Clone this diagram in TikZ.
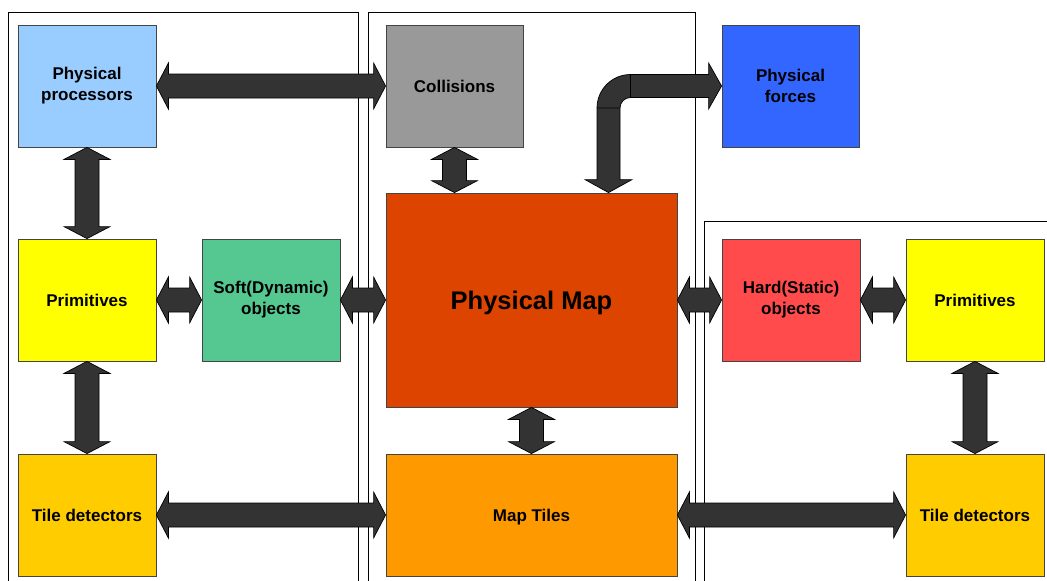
\documentclass[tikz,border=0pt]{standalone}
\usepackage{fontspec}
\setmainfont{Liberation Sans}
\usetikzlibrary{calc}
\definecolor{cproc}{HTML}{99CCFF}
\definecolor{ccoll}{HTML}{999999}
\definecolor{cforce}{HTML}{3366FF}
\definecolor{cprim}{HTML}{FFFF00}
\definecolor{csoft}{HTML}{55C891}
\definecolor{cmap}{HTML}{DD4400}
\definecolor{chard}{HTML}{FF4B4B}
\definecolor{ctile}{HTML}{FFCC00}
\definecolor{ctiles}{HTML}{FF9900}
\definecolor{carrow}{HTML}{333333}
\definecolor{cedge}{HTML}{444444}
\tikzset{
  box/.style={draw=cedge, line width=0.8pt, rectangle, inner sep=0pt, align=center,
    minimum width=138pt, minimum height=122pt,
    font=\fontsize{17}{21}\selectfont\bfseries},
  bigbox/.style={box, minimum width=291pt, text depth=0pt},
  panel/.style={draw=black, line width=0.9pt},
  arr/.style={draw=black, line width=0.7pt, fill=carrow, line join=miter}
}
\newcommand\harr[2]{\draw[arr] let \p1=(#1.east), \p2=(#2.west) in
  (\x1,\y1) -- (\x1+12pt,\y1+23pt) -- (\x1+12pt,\y1+12pt) -- (\x2-12pt,\y1+12pt)
  -- (\x2-12pt,\y1+23pt) -- (\x2,\y1) -- (\x2-12pt,\y1-23pt) -- (\x2-12pt,\y1-12pt)
  -- (\x1+12pt,\y1-12pt) -- (\x1+12pt,\y1-23pt) -- cycle;}
\newcommand\varr[2]{\draw[arr] let \p1=(#1.south), \p2=(#2.north) in
  (\x1,\y1) -- (\x1+23pt,\y1-12pt) -- (\x1+12pt,\y1-12pt) -- (\x1+12pt,\y2+12pt)
  -- (\x1+23pt,\y2+12pt) -- (\x1,\y2) -- (\x1-23pt,\y2+12pt) -- (\x1-12pt,\y2+12pt)
  -- (\x1-12pt,\y1-12pt) -- (\x1-23pt,\y1-12pt) -- cycle;}
\begin{document}
\begin{tikzpicture}[x=1pt,y=1pt]
\useasboundingbox (0,0) rectangle (1047,-581);
\fill[white] (0,0) rectangle (1047,-581);
% panels
\draw[panel] (8,-600) -- (8,-12.5) -- (358,-12.5) -- (358,-600);
\draw[panel] (368,-600) -- (368,-12.5) -- (695.5,-12.5) -- (695.5,-600);
\draw[panel] (704.5,-600) -- (704.5,-221) -- (1060,-221);
% boxes
\node[box, fill=cproc]  (proc)   at (87,-86)    {Physical\\processors};
\node[box, fill=ccoll, minimum width=137pt]  (coll)   at (454.5,-86) {Collisions};
\node[box, fill=cforce, minimum width=137pt] (forces) at (790.5,-86) {Physical\\forces};
\node[box, fill=cprim]  (primL)  at (87,-300)   {Primitives};
\node[box, fill=csoft]  (soft)   at (271,-300)  {Soft(Dynamic)\\objects};
\node[bigbox, fill=cmap, minimum height=214pt, font=\fontsize{25.5}{30}\selectfont\bfseries] (map) at (531.5,-300) {Physical Map};
\node[box, fill=chard]  (hard)   at (791,-300)  {Hard(Static)\\objects};
\node[box, fill=cprim]  (primR)  at (975,-300)  {Primitives};
\node[box, fill=ctile]  (tileL)  at (87,-515)   {Tile detectors};
\node[bigbox, fill=ctiles] (tiles) at (531.5,-515) {Map Tiles};
\node[box, fill=ctile]  (tileR)  at (975,-515)  {Tile detectors};
% connectors
\harr{proc}{coll}
\varr{proc}{primL}
\varr{primL}{tileL}
\harr{primL}{soft}
\harr{soft}{map}
\varr{coll}{map}
\harr{map}{hard}
\harr{hard}{primR}
\varr{primR}{tileR}
\harr{tileL}{tiles}
\harr{tiles}{tileR}
\varr{map}{tiles}
% bent arrow from Physical Map to Physical forces
\draw[arr] let \p1=($(map.north)+(77pt,0)$), \p2=(forces.west) in
  (\x1,\y1) -- (\x1-23.5pt,\y1+13pt) -- (\x1-11.5pt,\y1+13pt) -- (\x1-11.5pt,\y2-22pt)
  arc[start angle=180,end angle=90,radius=33.5pt]
  -- (\x2-13pt,\y2+11.5pt) -- (\x2-13pt,\y2+23pt) -- (\x2,\y2) -- (\x2-13pt,\y2-23pt)
  -- (\x2-13pt,\y2-11.5pt) -- (\x1+22pt,\y2-11.5pt)
  arc[start angle=90,end angle=180,radius=10.5pt]
  -- (\x1+11.5pt,\y1+13pt) -- (\x1+23.5pt,\y1+13pt) -- cycle
  (\x1-11.5pt,\y2-22pt) -- (\x1+11.5pt,\y2-22pt)
  (\x1+22pt,\y2+11.5pt) -- (\x1+22pt,\y2-11.5pt);
\end{tikzpicture}
\end{document}
